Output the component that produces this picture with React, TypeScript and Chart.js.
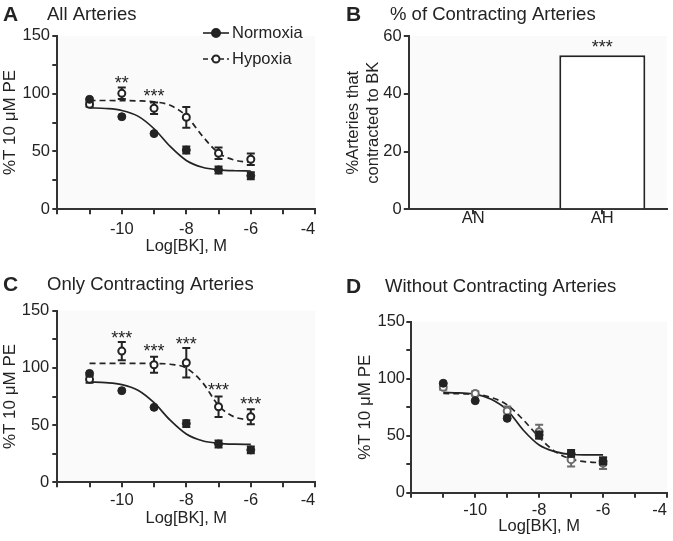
import React, { useEffect, useRef } from 'react';
import { Chart, registerables } from 'chart.js';

Chart.register(...registerables);

const FONT = "'Liberation Sans', Arial, Helvetica, sans-serif";
const INK = '#232323';
const AXIS = '#333333';
const PLOT_BG = '#fafafa';
const GREY_MARK = '#6c6c6c';

// ---------- shared x positions ----------
const LOG_BK = [-11, -10, -9, -8, -7, -6];
const FIT_X = [-11, -10.5, -10, -9.5, -9, -8.5, -8, -7.5, -7, -6.5, -6];
const X_TICK_LABELS = [-10, -8, -6, -4];
const Y_TICK_LABELS = [0, 50, 100, 150];

// ---------- Panel A: All Arteries ----------
const A_NORM = [95, 80, 65.4, 51.2, 34, 29];
const A_NORM_ERR = [0, 0, 0, 3, 3, 3];
const A_HYP = [90.7, 100.2, 87.3, 79.5, 48.4, 43.2];
const A_HYP_ERR = [2, 5, 5, 9, 5, 5];
const A_NORM_FIT = [87.7, 87.1, 85.4, 80.5, 69.6, 54.3, 42.2, 36.3, 34.1, 33.3, 33.1];
const A_HYP_FIT = [94.0, 94.0, 93.9, 93.7, 92.9, 89.9, 80.6, 63.3, 48.6, 42.5, 40.6];
const A_STAR_X = [-10, -9];
const A_STAR_Y = [113, 101.6];
const A_STAR_TEXT = ['**', '***'];

// ---------- Panel B: % of Contracting Arteries ----------
const B_CATEGORIES = ['AN', 'AH'];
const B_VALUES = [0, 53.3];
const B_STAR_Y = [57.6];
const B_STAR_TEXT = ['***'];

// ---------- Panel C: Only Contracting Arteries ----------
const C_NORM = [95.2, 80.1, 65.5, 51.3, 33.5, 28.3];
const C_NORM_ERR = [0, 0, 0, 3, 3, 3];
const C_HYP = [90, 114.7, 102.8, 104.5, 66, 57.3];
const C_HYP_ERR = [3, 8, 7, 13, 9, 6.5];
const C_NORM_FIT = [87.7, 87.1, 85.4, 80.5, 69.6, 54.3, 42.2, 36.3, 34.1, 33.3, 33.1];
const C_HYP_FIT = [104, 104, 104, 104, 103.9, 103.2, 99.9, 87.3, 67.1, 57.0, 54.6];
const C_STAR_X = [-10, -9, -8, -7, -6];
const C_STAR_Y = [130.2, 118.5, 125.2, 84.8, 72.8];
const C_STAR_TEXT = ['***', '***', '***', '***', '***'];

// ---------- Panel D: Without Contracting Arteries ----------
const D_NORM = [96, 80.7, 65.2, 50.6, 34.5, 27.8];
const D_NORM_ERR = [0, 0, 0, 3, 3, 3];
const D_HYP = [92.4, 87, 71.7, 53.5, 29, 25.8];
const D_HYP_ERR = [2, 2, 4, 6, 6, 5];
const D_NORM_FIT = [88, 87.5, 86.5, 82, 72.5, 55, 41.8, 36, 33.5, 33.2, 33.1];
const D_HYP_FIT = [87, 86.8, 86.3, 83.5, 77, 64, 48.6, 36, 29.5, 27, 26.3];

const pts = (xs: number[], ys: number[]) => xs.map((x, i) => ({ x, y: ys[i] }));

// ---------- plugins ----------
const plotBg = {
  id: 'plotBg',
  beforeDraw(chart: any) {
    const { ctx, chartArea: a } = chart;
    ctx.save();
    ctx.fillStyle = PLOT_BG;
    ctx.fillRect(a.left, a.top, a.right - a.left, a.bottom - a.top);
    ctx.restore();
  },
};

const panelTitle = {
  id: 'panelTitle',
  afterDraw(chart: any, _args: any, o: any) {
    const { ctx } = chart;
    ctx.save();
    ctx.fillStyle = INK;
    ctx.textBaseline = 'middle';
    ctx.textAlign = 'left';
    ctx.font = `bold 21px ${FONT}`;
    ctx.fillText(o.letter, o.letterX, o.y);
    ctx.font = `18.5px ${FONT}`;
    ctx.fillText(o.text, o.textX, o.y);
    ctx.restore();
  },
};

const errorBars = {
  id: 'errorBars',
  beforeDatasetDraw(chart: any, args: any) {
    const ds = chart.data.datasets[args.index];
    if (!ds.errors) return;
    const { ctx } = chart;
    const xs = chart.scales.x;
    const ys = chart.scales.y;
    ctx.save();
    ctx.strokeStyle = ds.errColor || INK;
    ctx.lineWidth = 2;
    ds.data.forEach((p: any, i: number) => {
      const e = ds.errors[i];
      if (!e) return;
      const x = xs.getPixelForValue(p.x);
      const y1 = ys.getPixelForValue(p.y + e);
      const y2 = ys.getPixelForValue(p.y - e);
      ctx.beginPath();
      ctx.moveTo(x, y1);
      ctx.lineTo(x, y2);
      ctx.moveTo(x - 4, y1);
      ctx.lineTo(x + 4, y1);
      ctx.moveTo(x - 4, y2);
      ctx.lineTo(x + 4, y2);
      ctx.stroke();
    });
    ctx.restore();
  },
};

const stars = {
  id: 'stars',
  afterDatasetsDraw(chart: any, _args: any, o: any) {
    if (!o || !o.texts) return;
    const { ctx } = chart;
    const xs = chart.scales.x;
    const ys = chart.scales.y;
    ctx.save();
    ctx.fillStyle = INK;
    ctx.font = `18px ${FONT}`;
    ctx.textAlign = 'center';
    ctx.textBaseline = 'alphabetic';
    o.texts.forEach((t: string, i: number) => {
      const x = xs.getPixelForValue(o.xs[i]);
      const y = ys.getPixelForValue(o.ys[i]);
      ctx.fillText(t, x, y + 10.5);
    });
    ctx.restore();
  },
};

const lineLegend = {
  id: 'lineLegend',
  afterDraw(chart: any, _args: any, o: any) {
    if (!o || !o.items) return;
    const { ctx } = chart;
    ctx.save();
    o.items.forEach((it: any) => {
      ctx.strokeStyle = INK;
      ctx.lineWidth = 1.6;
      ctx.setLineDash(it.dash);
      ctx.beginPath();
      ctx.moveTo(o.x0, it.y);
      ctx.lineTo(o.x1, it.y);
      ctx.stroke();
      ctx.setLineDash([]);
      ctx.beginPath();
      ctx.arc(o.mx, it.y, it.filled ? 4 : 3.5, 0, Math.PI * 2);
      ctx.fillStyle = it.filled ? INK : '#ffffff';
      ctx.fill();
      ctx.lineWidth = 2;
      ctx.stroke();
      ctx.fillStyle = INK;
      ctx.font = `16.5px ${FONT}`;
      ctx.textAlign = 'left';
      ctx.textBaseline = 'middle';
      ctx.fillText(it.label, o.tx, it.y);
    });
    ctx.restore();
  },
};

// ---------- chart builders ----------
type Lay = {
  padTop: number; padRight: number; yWidth: number; xHeight: number;
  xTickPad: number; yTickPad: number; xTitlePad: number; yTitlePad: number;
};

const tickFont = { family: FONT, size: 16.5, lineHeight: 1.2 };
const xTitleFont = { family: FONT, size: 16.5, lineHeight: 1.2 };
const yTitleFont = { family: FONT, size: 17, lineHeight: 1.2 };

function curveChart(canvas: HTMLCanvasElement, cfg: any) {
  const L: Lay = cfg.lay;
  return new Chart(canvas, {
    type: 'scatter',
    data: {
      datasets: [
        {
          label: 'Normoxia',
          data: pts(LOG_BK, cfg.norm),
          errors: cfg.normErr,
          errColor: INK,
          showLine: false,
          pointRadius: 4,
          pointBackgroundColor: INK,
          pointBorderColor: INK,
          pointBorderWidth: 1,
        } as any,
        {
          label: 'Hypoxia',
          data: pts(LOG_BK, cfg.hyp),
          errors: cfg.hypErr,
          errColor: cfg.hypColor,
          showLine: false,
          pointRadius: 3.5,
          pointBackgroundColor: '#ffffff',
          pointBorderColor: cfg.hypColor,
          pointBorderWidth: 2,
        } as any,
        {
          label: 'Normoxia fit',
          data: pts(FIT_X, cfg.normFit),
          showLine: true,
          pointRadius: 0,
          borderColor: INK,
          borderWidth: 1.7,
          cubicInterpolationMode: 'monotone',
        } as any,
        {
          label: 'Hypoxia fit',
          data: pts(FIT_X, cfg.hypFit),
          showLine: true,
          pointRadius: 0,
          borderColor: INK,
          borderWidth: 1.7,
          borderDash: [6, 4],
          cubicInterpolationMode: 'monotone',
        } as any,
      ],
    },
    options: {
      animation: false,
      responsive: false,
      events: [],
      layout: { padding: { top: L.padTop, right: L.padRight, left: 0, bottom: 0 } },
      plugins: {
        legend: { display: false },
        tooltip: { enabled: false },
        panelTitle: cfg.title,
        stars: cfg.stars || {},
        lineLegend: cfg.legend || {},
      } as any,
      scales: {
        x: {
          type: 'linear',
          min: -12,
          max: -4,
          ticks: {
            stepSize: 1,
            autoSkip: false,
            maxRotation: 0,
            align: 'inner',
            padding: L.xTickPad,
            color: INK,
            font: tickFont,
            callback: (v: any) => (X_TICK_LABELS.includes(v) ? String(v) : ''),
          },
          grid: { drawOnChartArea: false, drawTicks: true, tickLength: 5, color: AXIS, lineWidth: 2 },
          border: { display: true, color: AXIS, width: 2 },
          title: { display: true, text: 'Log[BK], M', color: INK, font: xTitleFont, padding: { top: 0, bottom: L.xTitlePad } },
          afterFit: (s: any) => { s.height = L.xHeight; s.paddingLeft = 0; s.paddingRight = 0; },
        },
        y: {
          type: 'linear',
          min: 0,
          max: 150,
          ticks: {
            stepSize: 25,
            autoSkip: false,
            padding: L.yTickPad,
            color: INK,
            font: tickFont,
            callback: (v: any) => (Y_TICK_LABELS.includes(v) ? String(v) : ''),
          },
          grid: { drawOnChartArea: false, drawTicks: true, tickLength: 5, color: AXIS, lineWidth: 2 },
          border: { display: true, color: AXIS, width: 2 },
          title: { display: true, text: '%T 10 μM PE', color: INK, font: yTitleFont, padding: { top: L.yTitlePad, bottom: 0 } },
          afterFit: (s: any) => { s.width = L.yWidth; s.paddingTop = 0; s.paddingBottom = 0; },
        },
      },
    } as any,
    plugins: [plotBg, errorBars, stars, lineLegend, panelTitle],
  });
}

function barChart(canvas: HTMLCanvasElement) {
  return new Chart(canvas, {
    type: 'bar',
    data: {
      labels: B_CATEGORIES,
      datasets: [
        {
          data: B_VALUES,
          backgroundColor: '#ffffff',
          borderColor: INK,
          borderWidth: 2,
          borderSkipped: 'start',
          barPercentage: 0.667,
          categoryPercentage: 1,
        },
      ],
    },
    options: {
      animation: false,
      responsive: false,
      events: [],
      layout: { padding: { top: 36, right: 6.2, left: 0, bottom: 0 } },
      plugins: {
        legend: { display: false },
        tooltip: { enabled: false },
        panelTitle: { letter: 'B', text: '% of Contracting Arteries', letterX: 10, textX: 54, y: 15 },
        stars: { xs: ['AH'], ys: B_STAR_Y, texts: B_STAR_TEXT },
      } as any,
      scales: {
        x: {
          type: 'category',
          offset: true,
          ticks: { padding: -5.5, color: INK, font: tickFont, maxRotation: 0 },
          grid: { offset: false, drawOnChartArea: false, drawTicks: true, tickLength: 5, color: AXIS, lineWidth: 2 },
          border: { display: true, color: AXIS, width: 2 },
          afterFit: (s: any) => { s.height = 60.7; s.paddingLeft = 0; s.paddingRight = 0; },
        },
        y: {
          type: 'linear',
          min: 0,
          max: 60,
          ticks: { stepSize: 20, padding: 2.1, color: INK, font: tickFont },
          grid: { drawOnChartArea: false, drawTicks: true, tickLength: 5, color: AXIS, lineWidth: 2 },
          border: { display: true, color: AXIS, width: 2 },
          title: {
            display: true,
            text: ['%Arteries that', 'contracted to BK'],
            color: INK,
            font: { family: FONT, size: 16.5, lineHeight: 1.22 },
            padding: { top: 7, bottom: 0 },
          },
          afterFit: (s: any) => { s.width = 72.8; s.paddingTop = 0; s.paddingBottom = 0; },
        },
      },
    } as any,
    plugins: [plotBg, stars, panelTitle],
  });
}

function ChartCanvas({ build, left, top, w, h }: any) {
  const ref = useRef<HTMLCanvasElement>(null);
  useEffect(() => {
    const c = build(ref.current!);
    return () => c.destroy();
  }, []);
  return (
    <canvas
      ref={ref}
      width={w}
      height={h}
      style={{ position: 'absolute', left, top, width: w, height: h }}
    />
  );
}

export default function App() {
  const buildA = (cv: HTMLCanvasElement) =>
    curveChart(cv, {
      norm: A_NORM, normErr: A_NORM_ERR, hyp: A_HYP, hypErr: A_HYP_ERR,
      normFit: A_NORM_FIT, hypFit: A_HYP_FIT, hypColor: INK,
      title: { letter: 'A', text: 'All Arteries', letterX: 3, textX: 47, y: 15 },
      stars: { xs: A_STAR_X, ys: A_STAR_Y, texts: A_STAR_TEXT },
      legend: {
        x0: 203, x1: 229, mx: 216, tx: 232,
        items: [
          { label: 'Normoxia', dash: [], filled: true, y: 33 },
          { label: 'Hypoxia', dash: [5, 3], filled: false, y: 59 },
        ],
      },
      lay: { padTop: 35.7, padRight: 20.7, yWidth: 57.3, xHeight: 60.7, xTickPad: 5.3, yTickPad: 2.3, xTitlePad: 14, yTitlePad: 0 },
    });
  const buildC = (cv: HTMLCanvasElement) =>
    curveChart(cv, {
      norm: C_NORM, normErr: C_NORM_ERR, hyp: C_HYP, hypErr: C_HYP_ERR,
      normFit: C_NORM_FIT, hypFit: C_HYP_FIT, hypColor: INK,
      title: { letter: 'C', text: 'Only Contracting Arteries', letterX: 3, textX: 47, y: 15 },
      stars: { xs: C_STAR_X, ys: C_STAR_Y, texts: C_STAR_TEXT },
      lay: { padTop: 40.7, padRight: 20.7, yWidth: 57.3, xHeight: 58.7, xTickPad: 2.8, yTickPad: 3, xTitlePad: 13, yTitlePad: 0 },
    });
  const buildD = (cv: HTMLCanvasElement) =>
    curveChart(cv, {
      norm: D_NORM, normErr: D_NORM_ERR, hyp: D_HYP, hypErr: D_HYP_ERR,
      normFit: D_NORM_FIT, hypFit: D_HYP_FIT, hypColor: GREY_MARK,
      title: { letter: 'D', text: 'Without Contracting Arteries', letterX: 10, textX: 49, y: 17 },
      lay: { padTop: 51.7, padRight: 4.7, yWidth: 75.3, xHeight: 48.3, xTickPad: 2.4, yTickPad: 1.3, xTitlePad: 4.3, yTitlePad: 19 },
    });

  return (
    <div style={{ position: 'absolute', left: 0, top: 0, width: 673, height: 541, background: '#ffffff', overflow: 'hidden' }}>
      <ChartCanvas build={buildA} left={0} top={0} w={336} h={270} />
      <ChartCanvas build={barChart} left={336} top={0} w={337} h={270} />
      <ChartCanvas build={buildC} left={0} top={270} w={336} h={271} />
      <ChartCanvas build={buildD} left={336} top={270} w={337} h={271} />
    </div>
  );
}
